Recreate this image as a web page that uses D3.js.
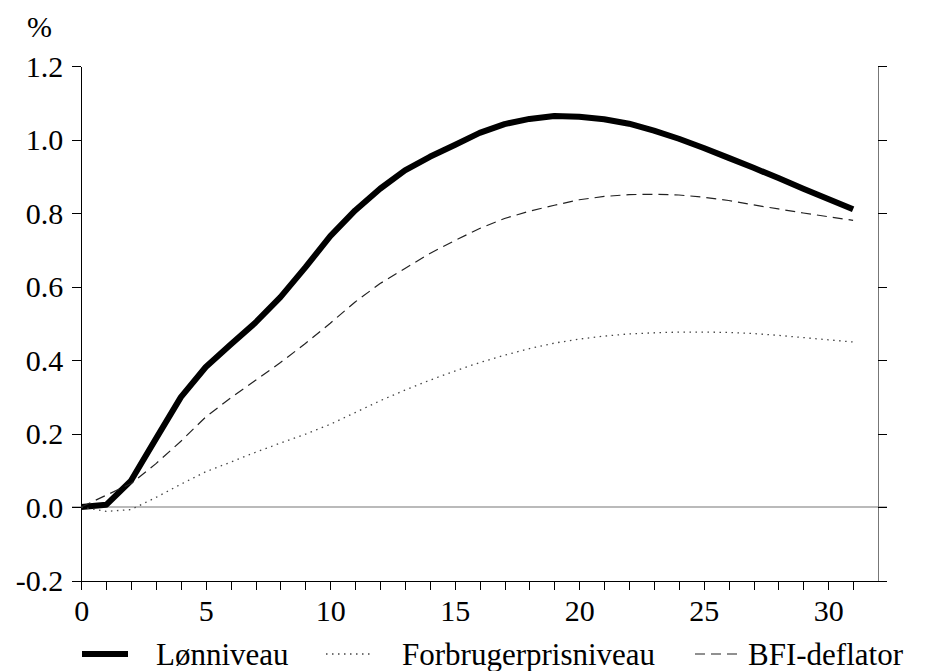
<!DOCTYPE html>
<html>
<head>
	<meta charset="utf-8">
	<title></title>
</head>
<body style="margin:0; background:#fff">
	<svg id="container" width="930" height="671"></svg>
</body>
<script src="https://cdn.jsdelivr.net/npm/d3@7"></script>
<script>
	// quarters after the shock
	let periods = [0,1,2,3,4,5,6,7,8,9,10,11,12,13,14,15,16,17,18,19,20,21,22,23,24,25,26,27,28,29,30,31]

	let lonniveau = [0.000,0.006,0.072,0.186,0.299,0.381,0.442,0.502,0.571,0.652,0.737,0.807,0.866,0.916,0.953,0.985,1.018,1.042,1.056,1.064,1.062,1.055,1.043,1.024,1.002,0.977,0.950,0.923,0.895,0.866,0.838,0.810]
	let forbrugerpris = [0.000,-0.012,-0.007,0.026,0.062,0.096,0.122,0.149,0.174,0.198,0.225,0.257,0.289,0.318,0.345,0.370,0.393,0.413,0.431,0.446,0.457,0.465,0.471,0.474,0.476,0.476,0.475,0.472,0.467,0.461,0.455,0.449]
	let bfiDeflator = [0.000,0.032,0.064,0.118,0.179,0.245,0.297,0.345,0.393,0.445,0.500,0.558,0.608,0.649,0.690,0.725,0.758,0.785,0.805,0.821,0.836,0.845,0.850,0.851,0.849,0.843,0.834,0.822,0.811,0.800,0.790,0.780]

	let yTicks = [-0.2,0.0,0.2,0.4,0.6,0.8,1.0,1.2]
	let yTickLabels = ["-0.2","0.0","0.2","0.4","0.6","0.8","1.0","1.2"]
	let xLabelled = [0,5,10,15,20,25,30]

	let seriesNames = ["Lønniveau","Forbrugerprisniveau","BFI-deflator"]

	let serif = "Liberation Serif"

	let svg = d3.select("#container")

	let x = d3.scaleLinear().domain([0, 32]).range([81.3, 878])
	let y = d3.scaleLinear().domain([-0.2, 1.2]).range([580.5, 66])

	// zero line, runs through the tick areas on both sides
	svg.append("line")
		.attr("x1", 72).attr("x2", 887)
		.attr("y1", y(0)).attr("y2", y(0))
		.style("stroke", "#777").style("stroke-width", 1.2)

	let yAxis = d3.axisLeft(y)
		.tickValues(yTicks)
		.tickSize(9)
		.tickSizeOuter(0)
		.tickPadding(9)
		.tickFormat((d, i) => yTickLabels[i])
	let gy = svg.append("g").attr("transform", "translate(" + x(0) + ",0)").call(yAxis)
	gy.attr("font-family", serif).attr("font-size", 30)
	gy.selectAll("text").attr("dy", "0.34em").attr("fill", "#000")

	let yAxisRight = d3.axisRight(y)
		.tickValues(yTicks)
		.tickSize(9)
		.tickSizeOuter(0)
		.tickFormat("")
	let gr = svg.append("g").attr("transform", "translate(" + x(32) + ",0)").call(yAxisRight)
	gr.select(".domain").style("stroke", "#777")

	let xAxis = d3.axisBottom(x)
		.tickValues(periods)
		.tickSize(9)
		.tickSizeOuter(0)
		.tickPadding(10)
		.tickFormat(d => xLabelled.includes(d) ? d : "")
	let gx = svg.append("g").attr("transform", "translate(0," + y(-0.2) + ")").call(xAxis)
	gx.attr("font-family", serif).attr("font-size", 30)
	gx.selectAll("text").attr("fill", "#000")

	svg.selectAll(".domain, .tick line").style("shape-rendering", "crispEdges")

	svg.append("text")
		.attr("x", 27).attr("y", 37)
		.attr("font-family", serif)
		.attr("font-size", 30)
		.text("%")

	let line = d3.line()
		.x((d, i) => x(periods[i]))
		.y(d => y(d))

	let styles = [
		{ data: lonniveau, width: 6, dash: null, color: "#000" },
		{ data: forbrugerpris, width: 1.3, dash: "1.5,4.5", color: "#444" },
		{ data: bfiDeflator, width: 1.2, dash: "10,6", color: "#222" }
	]

	svg.selectAll("path.series")
		.data(styles)
		.enter()
		.append("path")
		.attr("class", "series")
		.attr("d", d => line(d.data))
		.style("fill", "none")
		.style("stroke", d => d.color)
		.style("stroke-width", d => d.width)
		.style("stroke-dasharray", d => d.dash)
		.style("stroke-linejoin", "round")

	// legend
	let legendX = [[82, 128, 156], [326, 373, 402], [695, 740, 748]]
	let legend = svg.selectAll("g.legend")
		.data(styles)
		.enter()
		.append("g")
		.attr("class", "legend")
	legend.append("line")
		.attr("x1", (d, i) => legendX[i][0])
		.attr("x2", (d, i) => legendX[i][1])
		.attr("y1", 654).attr("y2", 654)
		.style("stroke", d => d.color)
		.style("stroke-width", d => d.width)
		.style("stroke-dasharray", d => d.dash)
	legend.append("text")
		.attr("x", (d, i) => legendX[i][2])
		.attr("y", 665)
		.attr("font-family", serif)
		.attr("font-size", 31)
		.text((d, i) => seriesNames[i])
</script>
</html>
